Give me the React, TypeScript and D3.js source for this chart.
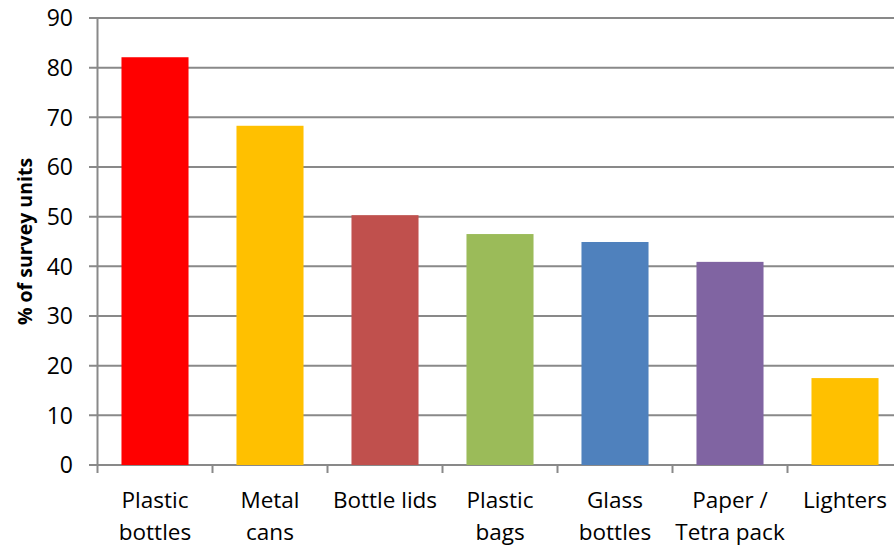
import React from "react";
import * as d3 from "d3";

const categories: string[][] = [
  ["Plastic", "bottles"],
  ["Metal", "cans"],
  ["Bottle lids"],
  ["Plastic", "bags"],
  ["Glass", "bottles"],
  ["Paper /", "Tetra pack"],
  ["Lighters"],
];
const values: number[] = [82.1, 68.3, 50.3, 46.5, 44.9, 40.9, 17.5];
const colors: string[] = ["#FF0000", "#FFC000", "#C0504D", "#9BBB59", "#4F81BD", "#8064A2", "#FFC000"];
const yTicks: number[] = [0, 10, 20, 30, 40, 50, 60, 70, 80, 90];
const yTitle = "% of survey units";

const W = 894;
const H = 546;
const FONT = "'Open Sans', 'Noto Sans', sans-serif";

export default function App() {
  const left = 97.5;
  const step = 115;
  const x = d3
    .scaleBand<number>()
    .domain(d3.range(categories.length))
    .range([left, left + step * categories.length])
    .paddingInner(0.417)
    .paddingOuter(0.2085);
  const y = d3.scaleLinear().domain([0, 90]).range([465, 18]);
  const right = left + step * categories.length;

  return (
    <div style={{ position: "absolute", left: 0, top: 0 }}>
      <svg width={W} height={H} style={{ display: "block", background: "#fff" }}>
        {/* gridlines and y ticks */}
        {yTicks.map((t) => (
          <g key={t}>
            <line x1={89} x2={right} y1={y(t)} y2={y(t)} stroke="#898989" strokeWidth={2} />
            <text
              x={73}
              y={y(t)}
              dy="0.36em"
              textAnchor="end"
              fontFamily={FONT}
              fontSize={23}
              fill="#000"
            >
              {t}
            </text>
          </g>
        ))}
        {/* bars */}
        {values.map((v, i) => (
          <rect
            key={i}
            x={x(i)}
            width={x.bandwidth()}
            y={y(v)}
            height={y(0) - y(v)}
            fill={colors[i]}
          />
        ))}
        {/* y axis line */}
        <line x1={left} x2={left} y1={y(90)} y2={y(0)} stroke="#898989" strokeWidth={2} />
        {/* x axis category ticks */}
        {d3.range(categories.length + 1).map((i) => (
          <line
            key={i}
            x1={left + i * step}
            x2={left + i * step}
            y1={y(0)}
            y2={y(0) + 8}
            stroke="#898989"
            strokeWidth={2}
          />
        ))}
        {/* category labels */}
        {categories.map((lines, i) => (
          <text
            key={i}
            x={(x(i) as number) + x.bandwidth() / 2}
            y={508}
            textAnchor="middle"
            fontFamily={FONT}
            fontSize={22.5}
            fill="#000"
          >
            {lines.map((l, j) => (
              <tspan key={j} x={(x(i) as number) + x.bandwidth() / 2} dy={j === 0 ? 0 : 32}>
                {l}
              </tspan>
            ))}
          </text>
        ))}
        {/* y axis title */}
        <text
          transform={`translate(32, 241.5) rotate(-90)`}
          textAnchor="middle"
          fontFamily={FONT}
          fontSize={19.5}
          fontWeight="bold"
          fill="#000"
        >
          {yTitle}
        </text>
      </svg>
    </div>
  );
}
